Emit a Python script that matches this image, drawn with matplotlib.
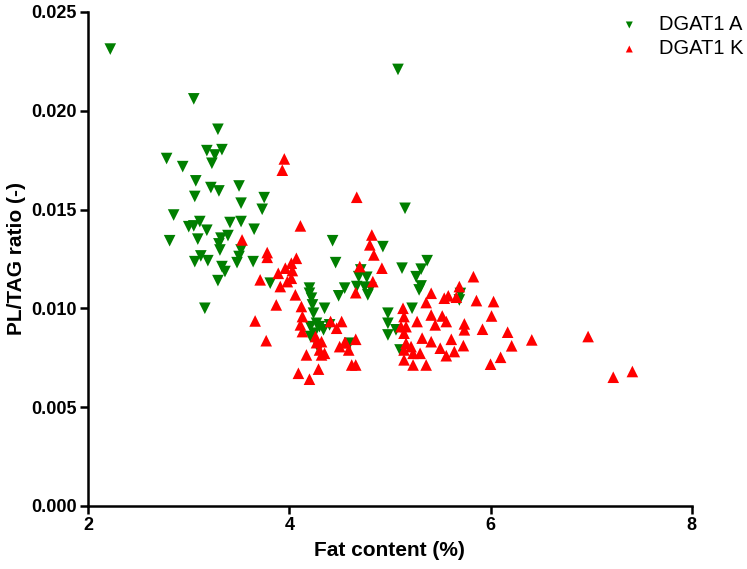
import matplotlib.pyplot as plt

plt.rcParams['font.family'] = ['Liberation Sans', 'DejaVu Sans']

# DGAT1 A (green, down triangles)
a_fat = [2.22, 3.05, 3.29, 2.78, 3.18, 3.33, 3.26, 3.23, 2.94, 3.07, 3.22, 3.30,
         3.50, 3.06, 3.75, 3.52, 3.73, 2.85, 3.00, 3.05, 3.11, 3.18, 3.41, 3.52,
         3.65, 2.81, 3.09, 3.32, 3.39, 3.30, 3.31, 3.52, 3.50, 3.48, 3.12, 3.06,
         3.19, 3.64, 3.33, 3.36, 3.29, 3.81, 3.16, 4.43, 4.46, 4.93, 4.71, 4.69,
         4.77, 4.67, 4.75, 4.81, 4.78, 4.55, 4.49, 5.12, 5.37, 5.31, 5.26, 5.31,
         5.29, 5.69, 5.22, 4.98, 4.98, 5.06, 4.98, 5.10, 4.20, 4.20, 4.22, 4.23,
         4.24, 4.21, 4.27, 4.30, 4.34, 4.25, 4.21, 4.35, 4.40, 4.60, 4.29, 5.08,
         5.15, 5.70]
a_ratio = [0.02312, 0.02060, 0.01906, 0.01758, 0.01798, 0.01803, 0.01776, 0.01734,
           0.01717, 0.01645, 0.01611, 0.01594, 0.01619, 0.01566, 0.01560, 0.01532,
           0.01501, 0.01472, 0.01413, 0.01417, 0.01439, 0.01395, 0.01434, 0.01439,
           0.01400, 0.01342, 0.01350, 0.01355, 0.01368, 0.01326, 0.01295, 0.01295,
           0.01262, 0.01231, 0.01265, 0.01236, 0.01241, 0.01236, 0.01211, 0.01186,
           0.01140, 0.01127, 0.01000, 0.01342, 0.01231, 0.01312, 0.01194, 0.01160,
           0.01157, 0.01110, 0.01107, 0.01102, 0.01068, 0.01102, 0.01063, 0.01203,
           0.01241, 0.01198, 0.01160, 0.01113, 0.01093, 0.01042, 0.01000, 0.00975,
           0.00924, 0.00891, 0.00865, 0.00789, 0.01102, 0.01076, 0.01051, 0.01017,
           0.00975, 0.00907, 0.00924, 0.00907, 0.00891, 0.00874, 0.00857, 0.01000,
           0.00916, 0.00823, 0.00798, 0.02209, 0.01506, 0.01075]

# DGAT1 K (red, up triangles)
k_fat = [3.95, 3.93, 4.67, 4.11, 3.53, 4.82, 4.80, 4.84, 4.92, 4.70, 4.83, 4.66,
         3.78, 3.78, 4.07, 4.02, 3.96, 3.89, 4.03, 4.02, 3.98, 3.71, 3.91, 4.06,
         3.87, 4.12, 4.13, 3.66, 4.11, 4.13, 3.77, 4.41, 4.52, 4.47, 4.66, 4.55,
         4.26, 4.27, 4.32, 4.30, 4.35, 4.17, 4.32, 4.50, 4.56, 4.59, 4.09, 4.20,
         4.29, 4.62, 4.66, 5.13, 5.14, 5.11, 5.16, 5.14, 5.16, 5.14, 5.21, 5.23,
         5.30, 5.14, 5.23, 5.36, 5.41, 5.36, 5.54, 5.58, 5.66, 5.69, 5.83, 5.86,
         6.03, 6.01, 5.92, 5.74, 5.74, 5.56, 5.52, 5.41, 5.45, 5.27, 5.32, 5.41,
         5.50, 5.61, 5.64, 5.73, 5.56, 6.00, 6.17, 6.41, 6.21, 6.10, 6.97, 7.22,
         7.41]
k_ratio = [0.01756, 0.01699, 0.01562, 0.01417, 0.01346, 0.01371, 0.01321, 0.01270,
           0.01203, 0.01211, 0.01135, 0.01079, 0.01282, 0.01258, 0.01253, 0.01228,
           0.01203, 0.01177, 0.01191, 0.01152, 0.01135, 0.01144, 0.01110, 0.01068,
           0.01017, 0.01009, 0.00958, 0.00936, 0.00916, 0.00882, 0.00836, 0.00933,
           0.00933, 0.00899, 0.00843, 0.00826, 0.00857, 0.00826, 0.00831, 0.00789,
           0.00772, 0.00764, 0.00764, 0.00806, 0.00826, 0.00789, 0.00671, 0.00641,
           0.00692, 0.00713, 0.00713, 0.01000, 0.00958, 0.00907, 0.00907, 0.00874,
           0.00823, 0.00789, 0.00806, 0.00772, 0.00772, 0.00739, 0.00713, 0.00713,
           0.01076, 0.01029, 0.01051, 0.01063, 0.01056, 0.01110, 0.01160, 0.01039,
           0.01034, 0.00961, 0.00894, 0.00921, 0.00891, 0.00933, 0.00961, 0.00966,
           0.00916, 0.00933, 0.00849, 0.00831, 0.00798, 0.00843, 0.00781, 0.00811,
           0.00760, 0.00717, 0.00879, 0.00840, 0.00810, 0.00752, 0.00857, 0.00651,
           0.00680]

fig = plt.figure(figsize=(7.47, 5.69), dpi=100)
ax = fig.add_axes([0.118, 0.111, 0.808, 0.868])

ax.scatter(a_fat, a_ratio, marker='v', s=70, color='#007f00', edgecolors='none',
           label='DGAT1 A', zorder=3)
ax.scatter(k_fat, k_ratio, marker='^', s=70, color='#ff0000', edgecolors='none',
           label='DGAT1 K', zorder=3)

ax.set_xlim(2, 8)
ax.set_ylim(0, 0.025)
ax.set_xticks([2, 4, 6, 8])
ax.set_yticks([0.000, 0.005, 0.010, 0.015, 0.020, 0.025])
ax.set_yticklabels(['0.000', '0.005', '0.010', '0.015', '0.020', '0.025'])

for side in ['top', 'right']:
    ax.spines[side].set_visible(False)
for side in ['left', 'bottom']:
    ax.spines[side].set_linewidth(1.8)
ax.tick_params(width=1.8, length=6, labelsize=13, pad=2)
for lab in ax.get_xticklabels() + ax.get_yticklabels():
    lab.set_fontweight('bold')

ax.set_xlabel('Fat content (%)', fontsize=15, fontweight='bold', labelpad=5)
ax.set_ylabel('PL/TAG ratio (-)', fontsize=15, fontweight='bold', labelpad=4)

ax.legend(loc='upper right', bbox_to_anchor=(1.115, 1.03), frameon=False,
          fontsize=14.5, markerscale=0.6, handletextpad=0.45, labelspacing=0.25)

fig.savefig('out.png', dpi=100)
